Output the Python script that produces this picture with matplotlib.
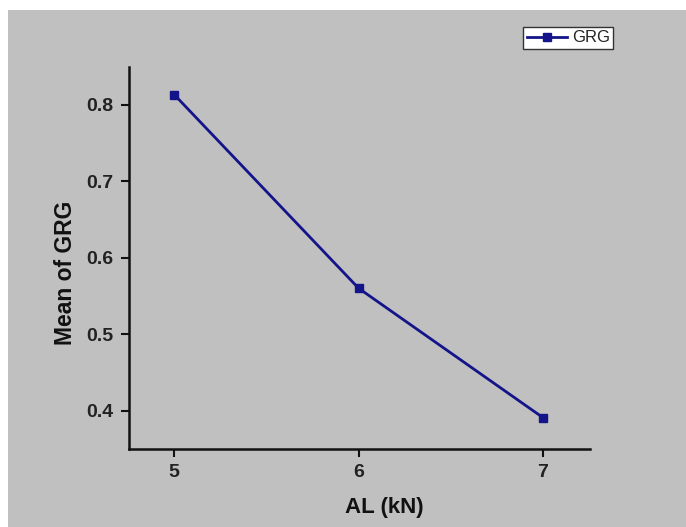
import matplotlib
matplotlib.use("Agg")
import matplotlib.pyplot as plt
from matplotlib.patches import Rectangle

al_kn = [5, 6, 7]
mean_grg = [0.813, 0.560, 0.391]
x_ticks = [5, 6, 7]
y_ticks = [0.4, 0.5, 0.6, 0.7, 0.8]

plt.rcParams['font.family'] = ['Liberation Sans', 'DejaVu Sans']

W, H = 686, 527
fig = plt.figure(figsize=(W / 100, H / 100), dpi=100)
fig.patch.set_facecolor('white')
bg = '#c0c0c0'
fig.patches.append(Rectangle((8 / W, 0), 1 - 8 / W, 1 - 10 / H, transform=fig.transFigure,
                             facecolor=bg, edgecolor='none', zorder=-10))

ax = fig.add_axes([129 / W, 1 - 449 / H, (590 - 129) / W, (449 - 67) / H])
ax.set_facecolor('none')
line_color = '#14148a'
ax.plot(al_kn, mean_grg, color=line_color, lw=2.0, marker='s', ms=5.5, label='GRG')

ax.set_xlim(4.755, 7.255)
ax.set_ylim(0.35, 0.849)
ax.set_xticks(x_ticks)
ax.set_yticks(y_ticks)
ax.set_xticklabels([str(v) for v in x_ticks], fontweight='bold', fontsize=14, color='#222222')
ax.set_yticklabels([f"{v:.1f}" for v in y_ticks], fontweight='bold', fontsize=14, color='#222222')
for s in ['top', 'right']:
    ax.spines[s].set_visible(False)
for s in ['left', 'bottom']:
    ax.spines[s].set_linewidth(1.8)
    ax.spines[s].set_color('#111111')
ax.tick_params(axis='both', direction='out', length=6, width=1.5, color='#111111', pad=5)

ax.set_xlabel('AL (kN)', fontweight='bold', fontsize=16, color='#111111')
ax.xaxis.set_label_coords((384 - 129) / (590 - 129), -(508 - 449) / (449 - 67), transform=ax.transAxes)
ax.xaxis.label.set_va('center')
ax.set_ylabel('Mean of GRG', fontweight='bold', fontsize=16.5, color='#111111')
ax.yaxis.set_label_coords(-(129 - 65) / (590 - 129), (449 - 273) / (449 - 67), transform=ax.transAxes)
ax.yaxis.label.set_va('center')

leg = ax.legend(loc='upper right', bbox_to_anchor=(613 / W, 1 - 27 / H),
                bbox_transform=fig.transFigure, fontsize=12, frameon=True,
                fancybox=False, handlelength=2.4, handletextpad=0.3,
                borderpad=0.2, borderaxespad=0)
leg.get_frame().set_edgecolor('#333333')
leg.get_frame().set_linewidth(1.0)
leg.get_frame().set_facecolor('white')
leg.get_frame().set_alpha(1)
for t in leg.get_texts():
    t.set_color('#222222')

fig.savefig('out.png', dpi=100)
